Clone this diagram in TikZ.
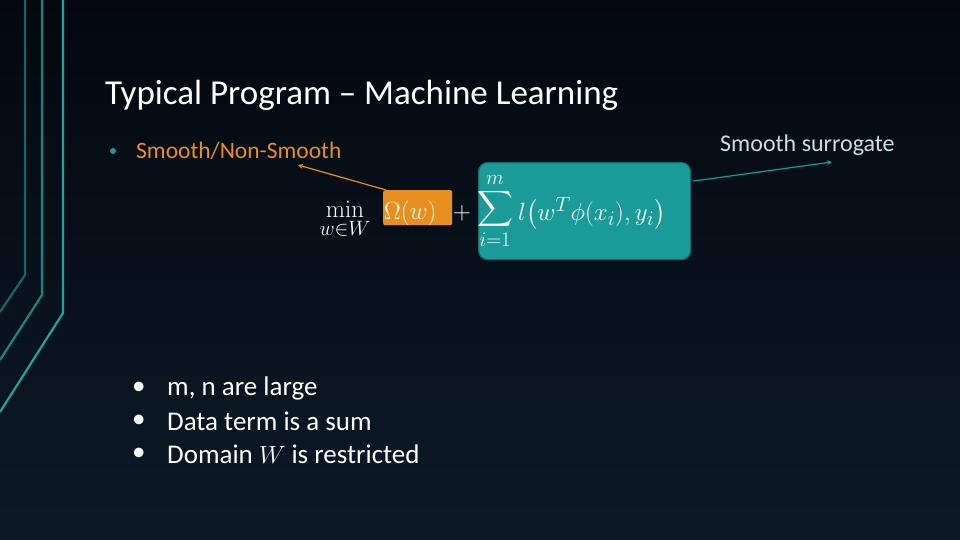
\documentclass[tikz,border=0pt]{standalone}
\usepackage[no-math]{fontspec}
\setmainfont{Carlito}
\usepackage{amsmath}
\definecolor{tealc}{HTML}{1B9A9A}
\definecolor{orangec}{HTML}{E8901F}
\definecolor{linec}{HTML}{1FA39A}
\begin{document}
\begin{tikzpicture}[x=1pt,y=-1pt,
  deco/.style={draw=linec,line width=2.2pt},
  txt/.style={anchor=west,inner sep=0pt,text=white},
  mth/.style={inner sep=0pt,text=white,font=\fontsize{28}{33}\selectfont}]
\shade[top color={rgb,255:red,4;green,8;blue,14},bottom color={rgb,255:red,12;green,26;blue,40}] (0,0) rectangle (960,540);
\useasboundingbox (0,0) rectangle (960,540);
\draw[deco,draw opacity=0.6] (25,0) -- (25,275) -- (0,312);
\draw[deco,draw opacity=0.8] (42,0) -- (42,295) -- (0,360);
\draw[deco] (63,0) -- (63,313) -- (0,412);
\node[txt,font=\fontsize{35}{40}\selectfont] (title) at (105,95) {Typical Program – Machine Learning};
\fill[tealc] (113,151) circle (3) coordinate (b0);
\node[txt,text=orangec,font=\fontsize{23.5}{27}\selectfont] (sm) at (136,151) {Smooth/Non-Smooth};
\node[txt,text={rgb,255:red,200;green,225;blue,225},font=\fontsize{24}{28}\selectfont] (ss) at (720,145) {Smooth surrogate};
\node[draw=tealc!70!black,fill=tealc,rounded corners=9pt,line width=1.2pt,minimum width=212pt,minimum height=97pt,anchor=north west,inner sep=0pt] (tb) at (478,162) {};
\node[fill=orangec,rounded corners=2pt,minimum width=69pt,minimum height=35pt,anchor=north west,inner sep=0pt] (ob) at (383,190) {};
\node[mth,anchor=north] (mn) at (345,201) {$\mathop{\mathrm{min}}\limits_{w\in W}$};
\node[mth,anchor=west] (om) at (384,213) {$\Omega(w)$};
\node[mth] (pl) at (462,213) {$+$};
\node[mth,font=\fontsize{30}{35}\selectfont] (sm2) at (495,211) {$\displaystyle\sum_{i=1}^{m}$};
\node[mth,anchor=west,font=\fontsize{29.5}{35}\selectfont] (lt) at (518,213) {$l\bigl(w^T\phi(x_i),y_i\bigr)$};
\coordinate (oa) at (298,165);
\coordinate (ta) at (832,162);
\draw[orangec,line width=1.2pt,-stealth] (ob.north west) ++(3,0) -- (oa);
\draw[tealc,line width=1.2pt,-stealth] (tb.east) ++(2,-30) -- (ta);
\foreach \y/\t [count=\i] in {388/{m, n are large},421/{Data term is a sum},454/{Domain $W$ is restricted}}{
  \node[txt,font=\fontsize{27}{31}\selectfont] (bd\i) at (132,\y) {•};
  \node[txt,font=\fontsize{27}{31}\selectfont] (bl\i) at (167,\y) {\t};
}
\end{tikzpicture}
\end{document}
